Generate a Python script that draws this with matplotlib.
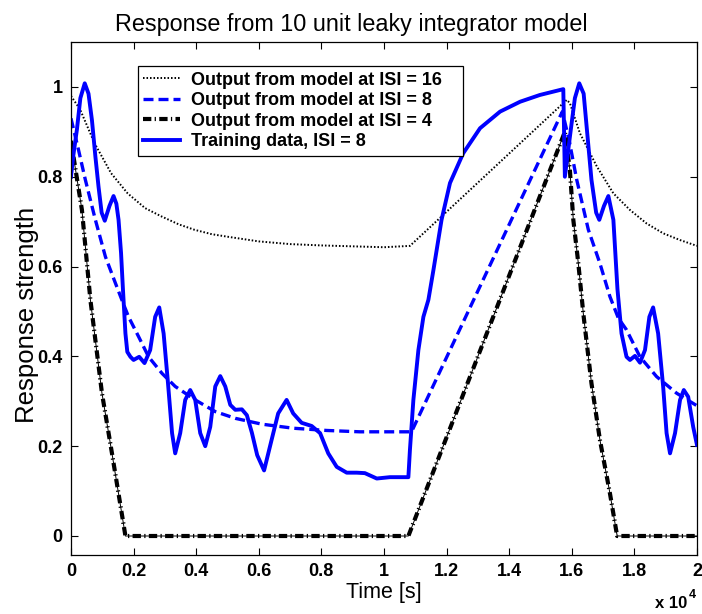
import matplotlib
matplotlib.use("Agg")
import matplotlib.pyplot as plt
from matplotlib.ticker import FixedLocator, FuncFormatter

plt.rcParams["font.family"] = ["Liberation Sans", "DejaVu Sans"]

# ── data (time in seconds, response strength) ────────────────────────────────
T_ISI16 = [0, 290, 750, 1280, 1810, 2370, 2880, 3440, 3940, 4500, 5040, 6000,
           7000, 8000, 9000, 10000, 10830, 15840, 15940, 16260, 16800, 17330,
           17860, 18390, 18920, 19460, 20000]
Y_ISI16 = [0.98, 0.95, 0.875, 0.808, 0.763, 0.730, 0.712, 0.694, 0.682, 0.672,
           0.666, 0.656, 0.650, 0.647, 0.645, 0.643, 0.646, 0.971, 0.964, 0.897,
           0.823, 0.763, 0.726, 0.696, 0.674, 0.659, 0.646]

T_ISI8 = [0, 240, 460, 780, 1100, 1420, 1680, 1840, 2160, 2480, 2910, 3330,
          3970, 4610, 5250, 6100, 7100, 8170, 9230, 10880, 15700, 15920, 16160,
          16530, 16900, 17220, 17490, 17750, 18180, 18710, 19350, 20000]
Y_ISI8 = [0.93, 0.860, 0.793, 0.704, 0.622, 0.563, 0.516, 0.488, 0.444, 0.399,
          0.362, 0.333, 0.303, 0.277, 0.262, 0.249, 0.240, 0.235, 0.232, 0.232,
          0.945, 0.88, 0.793, 0.682, 0.607, 0.533, 0.485, 0.459, 0.399, 0.355,
          0.318, 0.290]

T_ISI4 = [0, 350, 620, 990, 1310, 1740, 10780, 15780, 15940, 16050, 16210,
          16370, 16630, 16900, 17220, 17450, 20000]
Y_ISI4 = [0.88, 0.726, 0.526, 0.318, 0.184, 0.0, 0.0, 0.90, 0.815, 0.704,
          0.607, 0.495, 0.340, 0.214, 0.095, 0.0, 0.0]

T_TRAIN = [0, 80, 190, 300, 440, 560, 670, 780, 880, 980, 1080, 1230, 1360,
           1450, 1520, 1600, 1660, 1740, 1800, 1900, 2000, 2180, 2350, 2530,
           2690, 2820, 2960, 3100, 3230, 3330, 3490, 3650, 3810, 3970, 4130,
           4290, 4450, 4610, 4770, 4930, 5090, 5250, 5460, 5620, 5780, 5950,
           6170, 6410, 6620, 6890, 7100, 7370, 7690, 7960, 8220, 8490, 8810,
           9130, 9390, 9770, 10190, 10780, 10830, 10940, 11100, 11260, 11420,
           11580, 11840, 12110, 12530, 13070, 13710, 14350, 14980, 15730,
           15780, 15970, 16100, 16240, 16380, 16630, 16780, 16880, 17030,
           17170, 17330, 17460, 17590, 17750, 17860, 18020, 18180, 18340,
           18480, 18600, 18760, 18920, 19030, 19140, 19300, 19460, 19580,
           19720, 19880, 20000]
Y_TRAIN = [0.80, 0.85, 0.905, 0.975, 1.008, 0.985, 0.926, 0.845, 0.778, 0.72,
           0.702, 0.735, 0.757, 0.74, 0.704, 0.63, 0.55, 0.451, 0.41, 0.399,
           0.392, 0.399, 0.385, 0.414, 0.488, 0.509, 0.451, 0.340, 0.229,
           0.184, 0.229, 0.303, 0.325, 0.303, 0.229, 0.200, 0.243, 0.333,
           0.356, 0.333, 0.292, 0.281, 0.282, 0.269, 0.23, 0.18, 0.146, 0.214,
           0.273, 0.303, 0.273, 0.252, 0.245, 0.229, 0.184, 0.154, 0.141,
           0.141, 0.140, 0.128, 0.131, 0.131, 0.192, 0.303, 0.414, 0.488,
           0.526, 0.592, 0.704, 0.786, 0.852, 0.908, 0.945, 0.967, 0.982,
           0.995, 0.80, 0.905, 0.975, 1.008, 0.985, 0.793, 0.72, 0.704, 0.735,
           0.757, 0.704, 0.55, 0.451, 0.399, 0.392, 0.401, 0.386, 0.414,
           0.488, 0.509, 0.451, 0.333, 0.229, 0.184, 0.229, 0.303, 0.325,
           0.310, 0.243, 0.203]

X_TICKS = [0, 2000, 4000, 6000, 8000, 10000, 12000, 14000, 16000, 18000, 20000]
Y_TICKS = [0, 0.2, 0.4, 0.6, 0.8, 1.0]

BLUE = "#0000FF"

fig = plt.figure(figsize=(7.02, 6.14), dpi=100)
ax = fig.add_axes([0.1011, 0.0961, 0.8917, 0.8355])

l16, = ax.plot(T_ISI16, Y_ISI16, color="black", lw=1.4, linestyle=(0, (0.8, 1.0)),
               label="Output from model at ISI = 16")
l8, = ax.plot(T_ISI8, Y_ISI8, color=BLUE, lw=2.4, linestyle=(0, (3.0, 1.5)),
              label="Output from model at ISI = 8")
ax.plot(T_ISI4, Y_ISI4, color="black", lw=0.7)
l4, = ax.plot(T_ISI4, Y_ISI4, color="black", lw=3.0,
              linestyle=(0, (2.0, 0.8, 0.3, 0.8)),
              label="Output from model at ISI = 4")
ltr, = ax.plot(T_TRAIN, Y_TRAIN, color=BLUE, lw=2.8, solid_joinstyle="round",
               label="Training data, ISI = 8")

ax.set_xlim(0, 20000)
ax.set_ylim(-0.0423, 1.10)
ax.xaxis.set_major_locator(FixedLocator(X_TICKS))
ax.yaxis.set_major_locator(FixedLocator(Y_TICKS))
ax.xaxis.set_major_formatter(FuncFormatter(lambda v, p: f"{v / 1e4:g}"))
ax.yaxis.set_major_formatter(FuncFormatter(lambda v, p: f"{v:g}"))
ax.tick_params(direction="in", length=5, width=0.8, top=True, right=True,
               labelsize=13)
ax.tick_params(axis="x", pad=6)
ax.tick_params(axis="y", pad=6)
for lab in ax.get_xticklabels() + ax.get_yticklabels():
    lab.set_fontweight("bold")
for sp in ax.spines.values():
    sp.set_linewidth(0.9)

xl = ax.set_xlabel("Time [s]", fontsize=15.5)
xl.set_va("center")
ax.xaxis.set_label_coords(0.5, -0.073)
yl = ax.set_ylabel("Response strength", fontsize=18.5)
yl.set_va("center")
ax.yaxis.set_label_coords(-0.071, 0.468)

fig.text(0.5, 1 - 24 / 614, "Response from 10 unit leaky integrator model",
         ha="center", va="center", fontsize=16.8)

fig.text(687 / 702, 1 - 603 / 614, "x 10", ha="right", va="center",
         fontsize=12, fontweight="bold")
fig.text(689 / 702, 1 - 595 / 614, "4", ha="left", va="center",
         fontsize=9, fontweight="bold")

leg = ax.legend(handles=[l16, l8, l4, ltr], loc="upper left",
                bbox_to_anchor=(0.107, 0.0, (463 - 138) / 626, 0.953),
                mode="expand", borderaxespad=0, fancybox=False, framealpha=1,
                edgecolor="black", prop={"size": 13, "weight": "bold"},
                handlelength=2.05, handletextpad=0.6, borderpad=0.3,
                labelspacing=0.2)
leg.get_frame().set_linewidth(0.9)

fig.savefig("out.png", dpi=100)
